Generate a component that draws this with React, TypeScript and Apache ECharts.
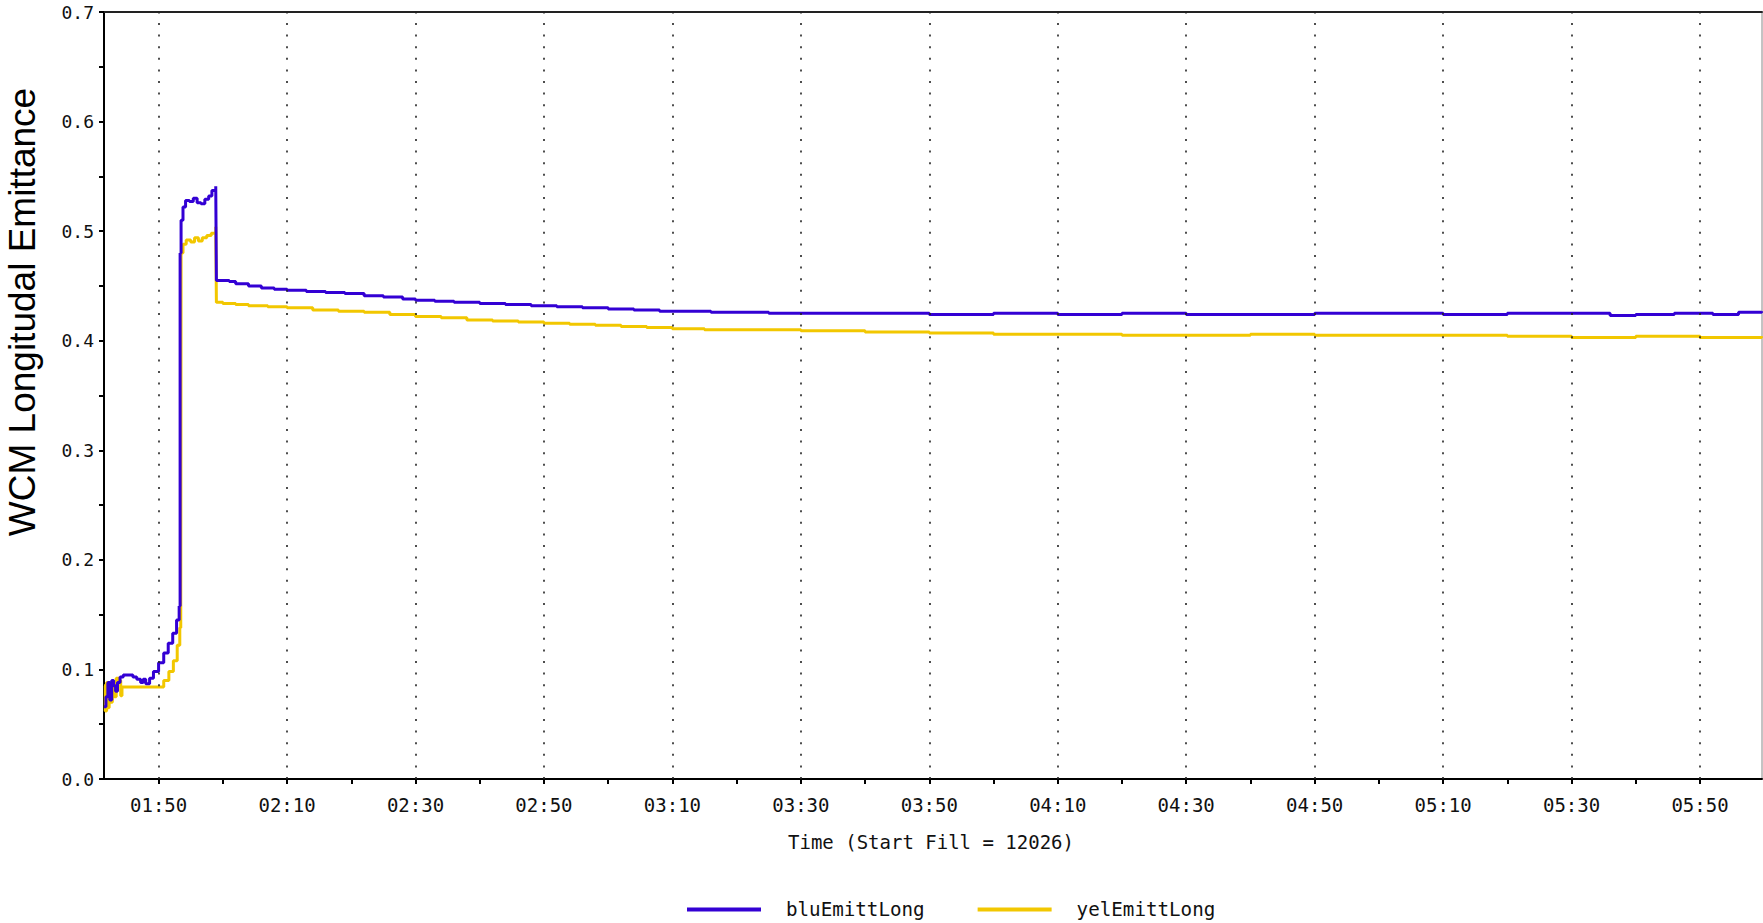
import React, { useEffect, useRef } from "react";
import * as echarts from "echarts";

// time in minutes since 00:00
const X_MIN = 101.5;
const X_MAX = 359.65;

const xTickTimes = [110, 120, 130, 140, 150, 160, 170, 180, 190, 200, 210, 220, 230, 240, 250, 260, 270, 280, 290, 300, 310, 320, 330, 340, 350];
const xLabelTimes = [110, 130, 150, 170, 190, 210, 230, 250, 270, 290, 310, 330, 350];

const seriesNames = ["bluEmittLong", "yelEmittLong"];

const bluTime = [
  101.5, 101.8, 102.1, 102.4, 102.7, 103.0, 103.3, 103.6, 104.0, 104.5, 105.2, 106.0, 106.6, 107.2, 107.6, 108.0,
  108.6, 109.2, 110.0, 110.8, 111.5, 112.2, 112.8, 113.2, 113.35, 113.5, 113.8, 114.2, 114.8, 115.4, 116.0, 116.6,
  117.2, 117.8, 118.3, 118.9, 119.0, 120, 121, 122, 123, 124, 126, 128, 130, 133, 136, 139, 142, 145, 148, 150,
  153, 156, 160, 164, 168, 172, 176, 180, 184, 188, 192, 196, 200, 205, 210, 220, 230, 240, 250, 260, 270, 280,
  290, 300, 310, 320, 330, 336, 340, 346, 352, 356, 359.6,
];
const bluValue = [
  0.066, 0.075, 0.088, 0.072, 0.09, 0.085, 0.08, 0.088, 0.093, 0.095, 0.095, 0.093, 0.091, 0.088, 0.091, 0.087,
  0.092, 0.098, 0.106, 0.115, 0.124, 0.133, 0.145, 0.158, 0.48, 0.51, 0.522, 0.528, 0.527, 0.53, 0.526, 0.525,
  0.529, 0.532, 0.537, 0.541, 0.455, 0.455, 0.454, 0.452, 0.452, 0.45, 0.448, 0.447, 0.446, 0.445, 0.444, 0.443, 0.441, 0.44, 0.438, 0.437,
  0.436, 0.435, 0.434, 0.433, 0.432, 0.431, 0.43, 0.429, 0.428, 0.427, 0.427, 0.426, 0.426, 0.425, 0.425, 0.425, 0.424, 0.425, 0.424, 0.425, 0.424, 0.424,
  0.425, 0.425, 0.424, 0.425, 0.425, 0.423, 0.424, 0.425, 0.424, 0.426, 0.427,
];

const yelTime = [
  101.5, 101.7, 101.9, 102.1, 102.3, 102.5, 102.8, 103.1, 103.4, 103.8, 104.1, 104.3, 106, 108, 110, 110.8,
  111.6, 112.3, 112.9, 113.3, 113.45, 113.5, 113.8, 114.3, 115.0, 115.6, 116.2, 116.8, 117.5, 118.2, 118.9, 119.0,
  120, 122, 124, 127, 130, 134, 138, 142, 146, 150, 154, 158, 162, 166, 170, 174, 178, 182, 186, 190, 195, 200,
  210, 220, 230, 240, 250, 260, 270, 280, 290, 300, 310, 320, 330, 340, 350, 359.6,
];
const yelValue = [
  0.085, 0.062, 0.088, 0.065, 0.085, 0.07, 0.088, 0.075, 0.092, 0.09, 0.076, 0.084, 0.084, 0.084, 0.084, 0.09,
  0.098, 0.108, 0.122, 0.138, 0.143, 0.48, 0.488, 0.492, 0.49, 0.494, 0.491, 0.494, 0.496, 0.498, 0.504, 0.435,
  0.434, 0.433, 0.432, 0.431, 0.43, 0.428, 0.427, 0.426, 0.424, 0.422, 0.421, 0.419, 0.418, 0.417, 0.416, 0.415, 0.414, 0.413, 0.412, 0.411, 0.41, 0.41,
  0.409, 0.408, 0.407, 0.406, 0.406, 0.405, 0.405, 0.406, 0.405, 0.405, 0.405, 0.404, 0.403, 0.404, 0.403, 0.404,
];

const BLUE = "#3300d4";
const YELLOW = "#f2c700";
const MONO = "DejaVu Sans Mono";

const fmtTime = (v: number) => {
  const h = Math.floor(v / 60);
  const m = Math.round(v - h * 60);
  return String(h).padStart(2, "0") + ":" + String(m).padStart(2, "0");
};

export default function App() {
  const ref = useRef<HTMLDivElement>(null);
  useEffect(() => {
    if (!ref.current) return;
    const chart = echarts.init(ref.current, undefined, { renderer: "svg" });
    const bluData = bluTime.map((t, i) => [t, bluValue[i]]);
    const yelData = yelTime.map((t, i) => [t, yelValue[i]]);
    chart.setOption({
      animation: false,
      backgroundColor: "#fff",
      textStyle: { fontFamily: MONO },
      grid: { left: 104, right: 1, top: 12, bottom: 144, show: true, borderColor: "#888", borderWidth: 1 },
      legend: {
        left: 682,
        top: 895,
        icon: "rect",
        itemWidth: 74,
        itemHeight: 4,
        itemGap: 53,
        data: seriesNames,
        textStyle: { fontFamily: MONO, fontSize: 19.2, color: "#111", padding: [0, 0, 0, 20] },
      },
      xAxis: [
        {
          type: "value",
          min: X_MIN,
          max: X_MAX,
          axisLine: { show: true, lineStyle: { color: "#000", width: 2 } },
          axisTick: { show: true, customValues: xTickTimes, length: 5, lineStyle: { color: "#000", width: 2 } },
          axisLabel: {
            customValues: xLabelTimes,
            formatter: (v: number) => fmtTime(v),
            margin: 16,
            fontSize: 19,
            color: "#111",
            fontFamily: MONO,
          },
          splitLine: { show: false },
        },
        {
          type: "value",
          position: "top",
          min: X_MIN,
          max: X_MAX,
          axisLine: { show: true, lineStyle: { color: "#222", width: 2 } },
          axisTick: { show: false },
          axisLabel: { show: false },
          splitLine: { show: false },
        },
      ],
      yAxis: {
        type: "value",
        min: 0,
        max: 0.7,
        interval: 0.1,
        axisLine: { show: true, lineStyle: { color: "#000", width: 2 } },
        axisTick: { show: true, length: 5, lineStyle: { color: "#000", width: 2 } },
        minorTick: { show: true, splitNumber: 2, length: 5, lineStyle: { color: "#000", width: 2 } },
        axisLabel: { formatter: (v: number) => v.toFixed(1), fontSize: 18, margin: 10, color: "#111", fontFamily: MONO },
        splitLine: { show: false },
      },
      graphic: [
        {
          type: "text",
          x: 22,
          y: 312,
          rotation: Math.PI / 2,
          style: {
            text: "WCM Longitudal Emittance",
            fontFamily: "Liberation Sans",
            fontSize: 37,
            fill: "#000",
            textAlign: "center",
            textVerticalAlign: "middle",
          },
        },
        {
          type: "text",
          x: 931,
          y: 842,
          style: {
            text: "Time (Start Fill = 12026)",
            fontFamily: MONO,
            fontSize: 19,
            fill: "#111",
            textAlign: "center",
            textVerticalAlign: "middle",
          },
        },
      ],
      series: [
        {
          name: seriesNames[0],
          type: "line",
          data: bluData,
          showSymbol: false,
          step: "end",
          color: BLUE,
          lineStyle: { color: BLUE, width: 3 },
          z: 3,
          markLine: {
            silent: true,
            symbol: "none",
            label: { show: false },
            lineStyle: { type: [2, 9.6], color: "#222", width: 1.6 },
            data: xLabelTimes.map((t) => ({ xAxis: t })),
          },
        },
        {
          name: seriesNames[1],
          type: "line",
          data: yelData,
          showSymbol: false,
          step: "end",
          color: YELLOW,
          lineStyle: { color: YELLOW, width: 3 },
          z: 2,
        },
      ],
    });
    return () => chart.dispose();
  }, []);
  return <div ref={ref} style={{ position: "absolute", left: 0, top: 0, width: 1763, height: 923 }} />;
}
